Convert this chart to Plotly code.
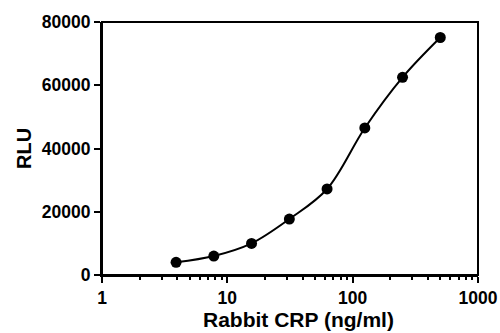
import plotly.graph_objects as go

conc = [3.9, 7.8, 15.6, 31.25, 62.5, 125, 250, 500]
rlu = [4000, 6000, 10000, 17700, 27200, 46500, 62500, 75100]

x_tickvals = [1, 10, 100, 1000]
x_ticktext = ["1", "10", "100", "1000"]
y_tickvals = [0, 20000, 40000, 60000, 80000]
y_ticktext = ["0", "20000", "40000", "60000", "80000"]
x_title = "Rabbit CRP (ng/ml)"
y_title = "RLU"

FONT = "Liberation Sans, Arial, sans-serif"

fig = go.Figure()
fig.add_trace(go.Scatter(
    x=conc, y=rlu, mode="lines",
    line=dict(color="black", width=2, shape="spline", smoothing=1.0),
    hoverinfo="skip", showlegend=False,
))
fig.add_trace(go.Scatter(
    x=conc, y=rlu, mode="markers",
    marker=dict(color="black", size=11),
    hoverinfo="skip", showlegend=False,
))

fig.update_layout(
    width=500, height=333,
    margin=dict(l=102, r=22, t=22, b=58),
    paper_bgcolor="white", plot_bgcolor="white",
    font=dict(family=FONT, color="black"),
    hovermode=False,
    shapes=[dict(type="rect", xref="x domain", yref="y domain",
                 x0=0, x1=1, y0=0, y1=1,
                 line=dict(color="black", width=2), layer="above")],
    annotations=[
        dict(text=x_title, xref="x domain", yref="y domain",
             x=0.5, y=0, xanchor="center", yanchor="middle",
             xshift=8, yshift=-44, showarrow=False,
             font=dict(family=FONT, size=21, weight="bold", color="black")),
        dict(text=y_title, xref="x domain", yref="y domain",
             x=0, y=0.5, xanchor="center", yanchor="middle",
             xshift=-78.5, textangle=-90, showarrow=False,
             font=dict(family=FONT, size=20, weight="bold", color="black")),
    ],
)
fig.update_xaxes(
    type="log", range=[0, 3], automargin=False,
    tickvals=x_tickvals, ticktext=x_ticktext,
    showgrid=False, zeroline=False,
    showline=True, linecolor="black", linewidth=2,
    ticks="outside", ticklen=6, tickwidth=2, tickcolor="black",
    tickfont=dict(family=FONT, size=17.5, weight="bold", color="black"),
    minor=dict(ticks="outside", ticklen=3, tickwidth=2, tickcolor="black",
               dtick="D1", showgrid=False),
)
fig.update_yaxes(
    range=[0, 80000], automargin=False,
    tickvals=y_tickvals, ticktext=y_ticktext,
    showgrid=False, zeroline=False,
    showline=True, linecolor="black", linewidth=2,
    ticks="outside", ticklen=6, tickwidth=2, tickcolor="black",
    tickfont=dict(family=FONT, size=17.5, weight="bold", color="black"),
)

fig.write_html("out.html",
               config={"displayModeBar": False},
               post_script="document.body.style.margin='0px';")
